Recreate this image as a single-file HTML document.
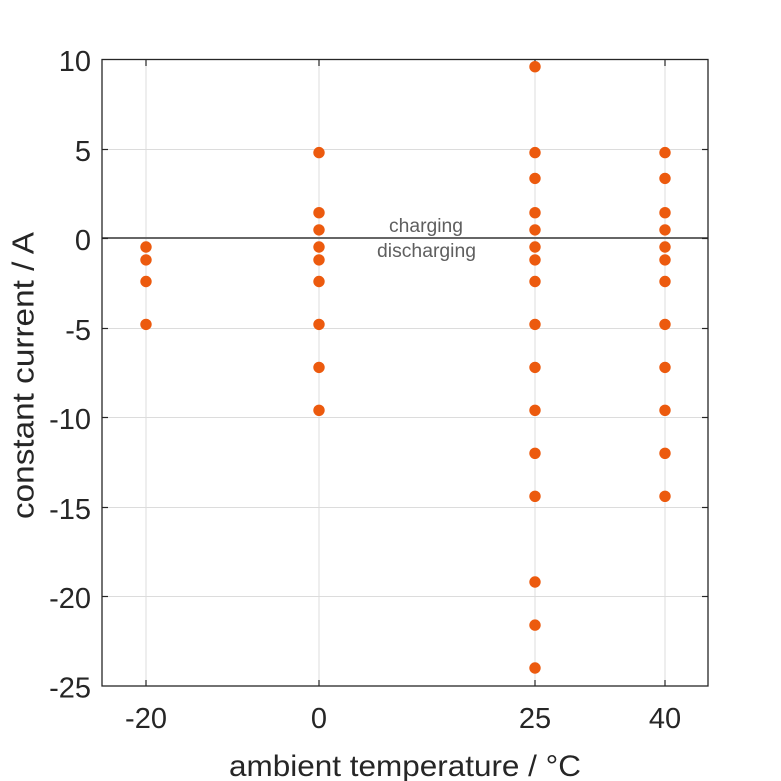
<!DOCTYPE html>
<html><head><meta charset="utf-8"><style>
html,body{margin:0;padding:0;background:#fff;}
svg{display:block;}
text{font-family:"Liberation Sans",sans-serif;}
</style></head><body>
<svg width="781" height="781" viewBox="0 0 781 781" xmlns="http://www.w3.org/2000/svg">
<rect width="781" height="781" fill="#fff"/>
<g stroke="#dcdcdc" stroke-width="1">
<line x1="146" y1="60" x2="146" y2="686"/>
<line x1="319" y1="60" x2="319" y2="686"/>
<line x1="535" y1="60" x2="535" y2="686"/>
<line x1="665" y1="60" x2="665" y2="686"/>
<line x1="102" y1="149.5" x2="708" y2="149.5"/>
<line x1="102" y1="328.5" x2="708" y2="328.5"/>
<line x1="102" y1="417.5" x2="708" y2="417.5"/>
<line x1="102" y1="507.5" x2="708" y2="507.5"/>
<line x1="102" y1="596.5" x2="708" y2="596.5"/>
</g>
<line x1="102" y1="238" x2="708" y2="238" stroke="#666" stroke-width="2"/>
<g stroke="#262626" stroke-width="1.2">
<line x1="146" y1="686" x2="146" y2="680"/><line x1="319" y1="686" x2="319" y2="680"/><line x1="535" y1="686" x2="535" y2="680"/><line x1="665" y1="686" x2="665" y2="680"/>
<line x1="146" y1="60" x2="146" y2="66"/><line x1="319" y1="60" x2="319" y2="66"/><line x1="535" y1="60" x2="535" y2="66"/><line x1="665" y1="60" x2="665" y2="66"/>
<line x1="102" y1="149.5" x2="108" y2="149.5"/><line x1="102" y1="238.5" x2="108" y2="238.5"/><line x1="102" y1="328.5" x2="108" y2="328.5"/><line x1="102" y1="417.5" x2="108" y2="417.5"/><line x1="102" y1="507.5" x2="108" y2="507.5"/><line x1="102" y1="596.5" x2="108" y2="596.5"/>
<line x1="708" y1="149.5" x2="702" y2="149.5"/><line x1="708" y1="238.5" x2="702" y2="238.5"/><line x1="708" y1="328.5" x2="702" y2="328.5"/><line x1="708" y1="417.5" x2="702" y2="417.5"/><line x1="708" y1="507.5" x2="702" y2="507.5"/><line x1="708" y1="596.5" x2="702" y2="596.5"/>
</g>
<rect x="102" y="59.5" width="606" height="626.5" fill="none" stroke="#262626" stroke-width="1.3"/>
<g fill="#262626" font-size="29" text-anchor="end">
<text x="91" y="71">10</text>
<text x="91" y="161">5</text>
<text x="91" y="250">0</text>
<text x="91" y="340">-5</text>
<text x="91" y="429">-10</text>
<text x="91" y="519">-15</text>
<text x="91" y="608">-20</text>
<text x="91" y="697.5">-25</text>
</g>
<g fill="#262626" font-size="29" text-anchor="middle">
<text x="146" y="728">-20</text>
<text x="319" y="728">0</text>
<text x="535" y="728">25</text>
<text x="665" y="728">40</text>
</g>
<text x="405" y="776" font-size="30" fill="#262626" text-anchor="middle" textLength="352" lengthAdjust="spacingAndGlyphs">ambient temperature / °C</text>
<text transform="translate(33.5,375.5) rotate(-90)" font-size="31" fill="#262626" text-anchor="middle" textLength="287" lengthAdjust="spacingAndGlyphs">constant current / A</text>
<text x="426" y="232" font-size="19" fill="#5f5f5f" text-anchor="middle" textLength="74" lengthAdjust="spacingAndGlyphs">charging</text>
<text x="426.5" y="257" font-size="19" fill="#5f5f5f" text-anchor="middle" textLength="99" lengthAdjust="spacingAndGlyphs">discharging</text>
<g fill="#ec5a0e">
<circle cx="146" cy="247" r="5.7"/><circle cx="146" cy="259.9" r="5.7"/><circle cx="146" cy="281.5" r="5.7"/><circle cx="146" cy="324.4" r="5.7"/>
<circle cx="319" cy="152.6" r="5.7"/><circle cx="319" cy="212.7" r="5.7"/><circle cx="319" cy="229.9" r="5.7"/><circle cx="319" cy="247" r="5.7"/><circle cx="319" cy="259.9" r="5.7"/><circle cx="319" cy="281.5" r="5.7"/><circle cx="319" cy="324.4" r="5.7"/><circle cx="319" cy="367.4" r="5.7"/><circle cx="319" cy="410.3" r="5.7"/>
<circle cx="535" cy="66.7" r="5.7"/><circle cx="535" cy="152.6" r="5.7"/><circle cx="535" cy="178.4" r="5.7"/><circle cx="535" cy="212.7" r="5.7"/><circle cx="535" cy="229.9" r="5.7"/><circle cx="535" cy="247" r="5.7"/><circle cx="535" cy="259.9" r="5.7"/><circle cx="535" cy="281.5" r="5.7"/><circle cx="535" cy="324.4" r="5.7"/><circle cx="535" cy="367.4" r="5.7"/><circle cx="535" cy="410.3" r="5.7"/><circle cx="535" cy="453.3" r="5.7"/><circle cx="535" cy="496.3" r="5.7"/><circle cx="535" cy="582" r="5.7"/><circle cx="535" cy="625.1" r="5.7"/><circle cx="535" cy="668" r="5.7"/>
<circle cx="665" cy="152.6" r="5.7"/><circle cx="665" cy="178.4" r="5.7"/><circle cx="665" cy="212.7" r="5.7"/><circle cx="665" cy="229.9" r="5.7"/><circle cx="665" cy="247" r="5.7"/><circle cx="665" cy="259.9" r="5.7"/><circle cx="665" cy="281.5" r="5.7"/><circle cx="665" cy="324.4" r="5.7"/><circle cx="665" cy="367.4" r="5.7"/><circle cx="665" cy="410.3" r="5.7"/><circle cx="665" cy="453.3" r="5.7"/><circle cx="665" cy="496.3" r="5.7"/>
</g>
</svg>
</body></html>
